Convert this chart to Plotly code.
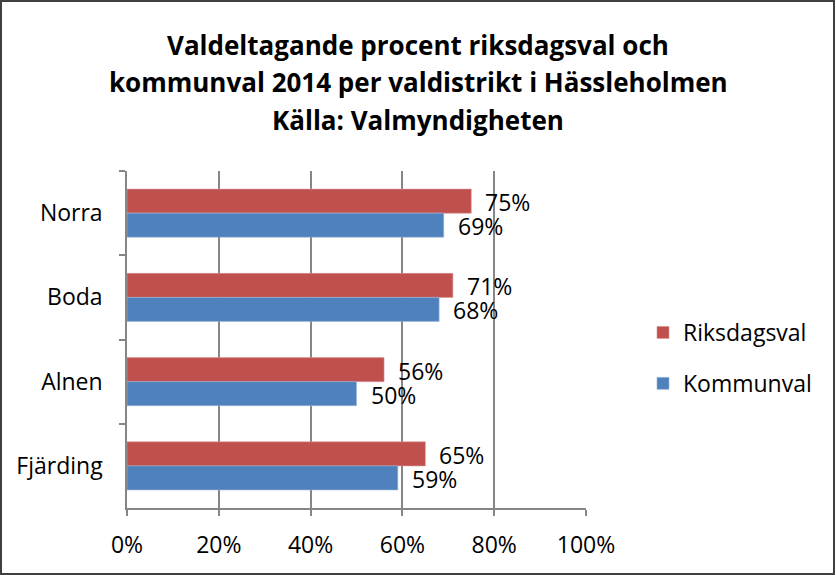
import plotly.graph_objects as go

categories = ["Norra", "Boda", "Alnen", "Fjärding"]
riksdagsval = [0.75, 0.71, 0.56, 0.65]
kommunval = [0.69, 0.68, 0.50, 0.59]
series_names = ["Riksdagsval", "Kommunval"]
x_ticks = [0, 0.2, 0.4, 0.6, 0.8, 1.0]
x_tick_labels = ["0%", "20%", "40%", "60%", "80%", "100%"]
title_lines = [
    "Valdeltagande procent riksdagsval och",
    "kommunval 2014 per valdistrikt i Hässleholmen",
    "Källa: Valmyndigheten",
]

RED = "#C0504D"
BLUE = "#4F81BD"
FONT = "Open Sans"
FS = 23
W, H = 836, 575
L, R, T, B = 127, 250, 171, 67
pw, ph = W - L - R, H - T - B


def px_x(xp):
    return (xp - L) / pw


def px_y(yp):
    return (H - B - yp) / ph


fig = go.Figure()
fig.add_trace(go.Bar(y=categories, x=riksdagsval, orientation="h", name=series_names[0],
                     marker=dict(color=RED, line=dict(color="#D99694", width=0.6)),
                     legendgroup="a"))
fig.add_trace(go.Bar(y=categories, x=kommunval, orientation="h", name=series_names[1],
                     marker=dict(color=BLUE, line=dict(color="#95B3D7", width=0.6)),
                     legendgroup="b"))

annotations = []
for vals, ys in ((riksdagsval, 11), (kommunval, -13)):
    for c, v in zip(categories, vals):
        annotations.append(dict(x=v, y=c, xref="x", yref="y", text=f"{round(v*100)}%",
                                showarrow=False, xanchor="left", yanchor="middle",
                                xshift=12, yshift=ys,
                                font=dict(family=FONT, size=FS, color="#000")))
for line, yp in zip(title_lines, [45, 82, 120]):
    annotations.append(dict(x=px_x(W / 2), y=px_y(yp), xref="paper", yref="paper",
                            text=f"<b>{line}</b>", showarrow=False,
                            xanchor="center", yanchor="middle",
                            font=dict(family=FONT, size=26, color="#000")))

fig.update_layout(
    width=W, height=H,
    margin=dict(l=L, r=R, t=T, b=B, pad=0),
    paper_bgcolor="white", plot_bgcolor="white",
    barmode="group", bargap=0.43, bargroupgap=0,
    font=dict(family=FONT, size=FS, color="#000"),
    showlegend=True,
    legend=dict(x=px_x(643), y=px_y(358), xanchor="left", yanchor="middle",
                traceorder="grouped", tracegroupgap=18,
                font=dict(family=FONT, size=FS, color="#000"),
                itemwidth=30, bgcolor="rgba(0,0,0,0)"),
    annotations=annotations,
    xaxis=dict(range=[0, 1], tickvals=x_ticks, ticktext=x_tick_labels,
               showgrid=True, gridcolor="#868686", gridwidth=1.5,
               showline=True, linecolor="#868686", linewidth=1.5,
               ticks="outside", ticklen=6, tickcolor="#868686", tickwidth=1.5,
               zeroline=False, fixedrange=True, automargin=False,
               ticklabelstandoff=10,
               tickfont=dict(family=FONT, size=FS, color="#000")),
    yaxis=dict(autorange="reversed", type="category",
               showline=True, linecolor="#868686", linewidth=1.5,
               ticks="outside", ticklen=6, tickcolor="#868686", tickwidth=1.5,
               tickson="boundaries", showgrid=False, ticklabelstandoff=18,
               automargin=False, fixedrange=True,
               tickfont=dict(family=FONT, size=FS, color="#000")),
    shapes=[dict(type="rect", xref="paper", yref="paper",
                 x0=px_x(1), x1=px_x(834), y0=px_y(574), y1=px_y(1),
                 line=dict(color="#404040", width=2), fillcolor="rgba(0,0,0,0)", layer="below")],
)

fig.write_html("out.html", config={"displayModeBar": False},
               post_script="document.body.style.margin='0';document.body.style.overflow='hidden';")
